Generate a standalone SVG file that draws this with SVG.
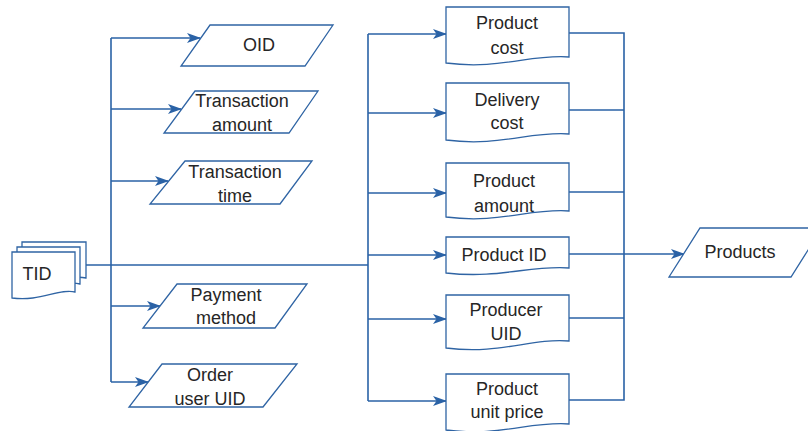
<svg xmlns="http://www.w3.org/2000/svg" width="808" height="431" viewBox="0 0 808 431">
  <style>
    .shape { fill: #ffffff; stroke: #2f64a4; stroke-width: 1.3; }
    .wire { fill: none; stroke: #2a62a6; stroke-width: 1.6; }
    .lbl { font-family: "Liberation Sans", Arial, sans-serif; font-size: 18px; fill: #262626; text-anchor: middle; }
  </style>
  <defs>
    <marker id="arr" viewBox="0 0 14 10" markerWidth="14" markerHeight="10" refX="13" refY="5" orient="auto" markerUnits="userSpaceOnUse">
      <path d="M0,0 L14,5 L0,10 L3.5,5 Z" fill="#2a62a6"/>
    </marker>
  </defs>

  <!-- connectors -->
  <g id="connectors">
    <path class="wire" d="M86,265 H368"/>
    <path class="wire" d="M111,38 V382"/>
    <path class="wire" d="M111,38 H200" marker-end="url(#arr)"/>
    <path class="wire" d="M111,109 H181" marker-end="url(#arr)"/>
    <path class="wire" d="M111,181 H168" marker-end="url(#arr)"/>
    <path class="wire" d="M111,306 H160" marker-end="url(#arr)"/>
    <path class="wire" d="M111,382 H148" marker-end="url(#arr)"/>

    <path class="wire" d="M368,34 V401"/>
    <path class="wire" d="M368,34 H446" marker-end="url(#arr)"/>
    <path class="wire" d="M368,113 H446" marker-end="url(#arr)"/>
    <path class="wire" d="M368,193 H446" marker-end="url(#arr)"/>
    <path class="wire" d="M368,255 H446" marker-end="url(#arr)"/>
    <path class="wire" d="M368,319 H446" marker-end="url(#arr)"/>
    <path class="wire" d="M368,401 H446" marker-end="url(#arr)"/>

    <path class="wire" d="M569,33 H624 V400 H569"/>
    <path class="wire" d="M569,110 H624"/>
    <path class="wire" d="M569,192 H624"/>
    <path class="wire" d="M569,318 H624"/>
    <path class="wire" d="M569,254 H684" marker-end="url(#arr)"/>
  </g>

  <!-- TID: stacked documents -->
  <g id="tid">
    <path class="shape" d="M22,242 H86 V278 C70,274 52,284 22,281 Z"/>
    <path class="shape" d="M17,247 H80 V284 C64,280 46,290 17,287 Z"/>
    <path class="shape" d="M12,252 H75 V292 C59,288 40,302 12,298 Z"/>
    <text class="lbl" x="37" y="280">TID</text>
  </g>

  <!-- left column: parallelograms -->
  <g id="oid">
    <path class="shape" d="M210,25 H333 L305,66 H181 Z"/>
    <text class="lbl" x="259" y="51">OID</text>
  </g>
  <g id="transaction-amount">
    <path class="shape" d="M195,91 H318 L289,133 H164 Z"/>
    <text class="lbl" x="242" y="107">Transaction</text>
    <text class="lbl" x="242" y="131">amount</text>
  </g>
  <g id="transaction-time">
    <path class="shape" d="M185,161 H312 L280,204 H150 Z"/>
    <text class="lbl" x="235" y="178">Transaction</text>
    <text class="lbl" x="235" y="202">time</text>
  </g>
  <g id="payment-method">
    <path class="shape" d="M177,284 H307 L275,328 H143 Z"/>
    <text class="lbl" x="226" y="301">Payment</text>
    <text class="lbl" x="226" y="324">method</text>
  </g>
  <g id="order-user-uid">
    <path class="shape" d="M162,364 H297 L263,407 H129 Z"/>
    <text class="lbl" x="210" y="381">Order</text>
    <text class="lbl" x="210" y="405">user UID</text>
  </g>

  <!-- middle column: documents -->
  <g id="product-cost">
    <path class="shape" d="M446,7 H569 V57 C530,54 500,70 446,63 Z"/>
    <text class="lbl" x="507" y="29">Product</text>
    <text class="lbl" x="507" y="54">cost</text>
  </g>
  <g id="delivery-cost">
    <path class="shape" d="M446,83 H569 V134 C530,131 500,147 446,140 Z"/>
    <text class="lbl" x="507" y="106">Delivery</text>
    <text class="lbl" x="507" y="129">cost</text>
  </g>
  <g id="product-amount">
    <path class="shape" d="M446,163 H569 V211 C530,208 500,224 446,217 Z"/>
    <text class="lbl" x="504" y="187">Product</text>
    <text class="lbl" x="504" y="212">amount</text>
  </g>
  <g id="product-id">
    <path class="shape" d="M446,237 H569 V268 C530,265 500,279 446,273 Z"/>
    <text class="lbl" x="504" y="261">Product ID</text>
  </g>
  <g id="producer-uid">
    <path class="shape" d="M446,295 H569 V341 C530,338 500,355 446,348 Z"/>
    <text class="lbl" x="506" y="316">Producer</text>
    <text class="lbl" x="506" y="340">UID</text>
  </g>
  <g id="product-unit-price">
    <path class="shape" d="M446,374 H569 V424 C530,421 500,437 446,430 Z"/>
    <text class="lbl" x="507" y="395">Product</text>
    <text class="lbl" x="507" y="418">unit price</text>
  </g>

  <!-- output -->
  <g id="products">
    <path class="shape" d="M700,228 H822 L791,277 H669 Z"/>
    <text class="lbl" x="740" y="258">Products</text>
  </g>
</svg>
